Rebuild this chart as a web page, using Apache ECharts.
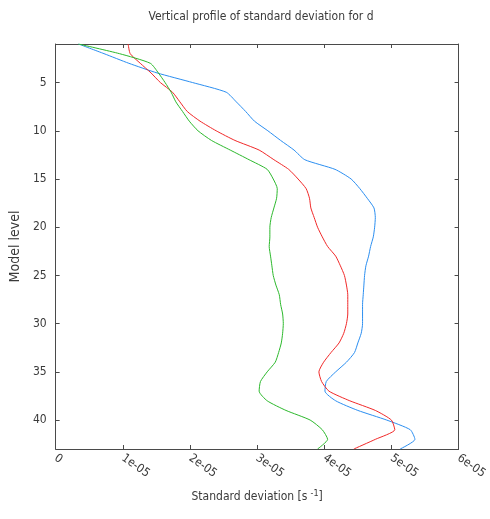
<!DOCTYPE html>
<html>
<head>
<meta charset="utf-8">
<script src="https://cdn.jsdelivr.net/npm/echarts@6/dist/echarts.min.js"></script>
<style>
  html, body { margin: 0; padding: 0; background: #ffffff; }
  #chart { width: 490px; height: 519px; }
</style>
</head>
<body>
<div id="chart"></div>
<script>
// Model levels (1 = top of the model, 43 = lowest level)
const levels = [
  1, 2, 3, 4, 5, 6, 7, 8, 9, 10,
  11, 12, 13, 14, 15, 16, 17, 18, 19, 20,
  21, 22, 23, 24, 25, 26, 27, 28, 29, 30,
  31, 32, 33, 34, 35, 36, 37, 38, 39, 40,
  41, 42, 43
];

// Standard deviation of d per level [s^-1]
const blueStd = [
  0.34e-5, 0.72e-5, 1.09e-5, 1.51e-5, 2.04e-5, 2.54e-5, 2.69e-5, 2.83e-5, 2.96e-5, 3.16e-5,
  3.35e-5, 3.55e-5, 3.71e-5, 4.16e-5, 4.40e-5, 4.53e-5, 4.64e-5, 4.74e-5, 4.76e-5, 4.75e-5,
  4.73e-5, 4.69e-5, 4.66e-5, 4.62e-5, 4.60e-5, 4.59e-5, 4.58e-5, 4.57e-5, 4.57e-5, 4.57e-5,
  4.55e-5, 4.50e-5, 4.45e-5, 4.33e-5, 4.17e-5, 4.03e-5, 4.01e-5, 4.17e-5, 4.50e-5, 4.93e-5,
  5.28e-5, 5.35e-5, 5.13e-5
];

const redStd = [
  1.08e-5, 1.11e-5, 1.26e-5, 1.42e-5, 1.56e-5, 1.74e-5, 1.85e-5, 1.96e-5, 2.15e-5, 2.39e-5,
  2.67e-5, 3.03e-5, 3.25e-5, 3.47e-5, 3.61e-5, 3.73e-5, 3.78e-5, 3.80e-5, 3.85e-5, 3.90e-5,
  3.97e-5, 4.05e-5, 4.17e-5, 4.24e-5, 4.30e-5, 4.33e-5, 4.35e-5, 4.35e-5, 4.35e-5, 4.33e-5,
  4.29e-5, 4.22e-5, 4.10e-5, 3.99e-5, 3.92e-5, 3.96e-5, 4.07e-5, 4.38e-5, 4.76e-5, 5.00e-5,
  5.05e-5, 4.76e-5, 4.44e-5
];

const greenStd = [
  0.34e-5, 0.95e-5, 1.41e-5, 1.53e-5, 1.63e-5, 1.72e-5, 1.79e-5, 1.89e-5, 1.99e-5, 2.12e-5,
  2.32e-5, 2.60e-5, 2.88e-5, 3.15e-5, 3.24e-5, 3.30e-5, 3.29e-5, 3.25e-5, 3.21e-5, 3.19e-5,
  3.19e-5, 3.18e-5, 3.20e-5, 3.22e-5, 3.24e-5, 3.28e-5, 3.33e-5, 3.35e-5, 3.38e-5, 3.39e-5,
  3.38e-5, 3.36e-5, 3.32e-5, 3.27e-5, 3.15e-5, 3.05e-5, 3.03e-5, 3.15e-5, 3.43e-5, 3.79e-5,
  3.97e-5, 4.05e-5, 3.90e-5
];

// Axis ticks
const xTickValues = [0, 1e-5, 2e-5, 3e-5, 4e-5, 5e-5, 6e-5];
const xTickLabels = ['0', '1e-05', '2e-05', '3e-05', '4e-05', '5e-05', '6e-05'];
const yTickValues = [5, 10, 15, 20, 25, 30, 35, 40];

const FONT = "'DejaVu Sans Condensed', 'DejaVu Sans', sans-serif";
const AXIS_COLOR = '#4a4a4a';
const TEXT_COLOR = '#3a3a3a';

function profile(values) {
  return levels.map((lev, i) => [values[i], lev]);
}

function xLabel(v) {
  const idx = xTickValues.findIndex(t => Math.abs(t - v) < 1e-9);
  return idx >= 0 ? xTickLabels[idx] : '';
}

const chart = echarts.init(document.getElementById('chart'), null, { renderer: 'canvas' });

const baseX = {
  type: 'value',
  min: 0,
  max: 6e-5,
  interval: 1e-5,
  splitLine: { show: false },
  axisLine: { show: true, onZero: false, lineStyle: { color: AXIS_COLOR, width: 1 } },
  axisTick: { show: true, inside: true, length: 4, lineStyle: { color: AXIS_COLOR } }
};

const baseY = {
  type: 'value',
  inverse: true,
  min: 1,
  max: 43,
  splitLine: { show: false },
  axisLine: { show: true, onZero: false, lineStyle: { color: AXIS_COLOR, width: 1 } },
  axisTick: { show: true, inside: true, length: 4, customValues: yTickValues, lineStyle: { color: AXIS_COLOR } }
};

function lineSeries(name, values, color) {
  return {
    name: name, type: 'line', data: profile(values),
    showSymbol: false, symbol: 'none', clip: true,
    smooth: 0.2,
    lineStyle: { color: color, width: 1 }
  };
}

chart.setOption({
  animation: false,
  backgroundColor: '#ffffff',
  title: {
    text: 'Vertical profile of standard deviation for d',
    left: 256,
    top: 6,
    textAlign: 'center',
    textStyle: { fontFamily: FONT, fontSize: 12, fontWeight: 'normal', color: TEXT_COLOR }
  },
  grid: { left: 55, top: 44, width: 406, height: 405, containLabel: false },
  xAxis: [
    Object.assign({}, baseX, {
      position: 'bottom',
      name: 'Standard deviation [s{sup|-1}]',
      nameLocation: 'middle',
      nameGap: 40,
      nameTextStyle: {
        fontFamily: FONT, fontSize: 12, color: TEXT_COLOR,
        rich: { sup: { fontFamily: FONT, fontSize: 9, color: TEXT_COLOR, padding: [0, 0, 7, 3] } }
      },
      axisLabel: {
        show: true, rotate: -35, margin: 8,
        fontFamily: FONT, fontSize: 12, color: TEXT_COLOR,
        formatter: xLabel
      }
    }),
    Object.assign({}, baseX, { position: 'top', axisLabel: { show: false } })
  ],
  yAxis: [
    Object.assign({}, baseY, {
      position: 'left',
      name: 'Model level',
      nameLocation: 'middle',
      nameGap: 21,
      nameTextStyle: { fontFamily: FONT, fontSize: 14, color: TEXT_COLOR },
      axisLabel: {
        show: true, margin: 9, customValues: yTickValues,
        fontFamily: FONT, fontSize: 12, color: TEXT_COLOR
      }
    }),
    Object.assign({}, baseY, { position: 'right', axisLabel: { show: false } })
  ],
  series: [
    lineSeries('blue', blueStd, '#2b8ef0'),
    lineSeries('red', redStd, '#f02828'),
    lineSeries('green', greenStd, '#2cb82c')
  ]
});
</script>
</body>
</html>
